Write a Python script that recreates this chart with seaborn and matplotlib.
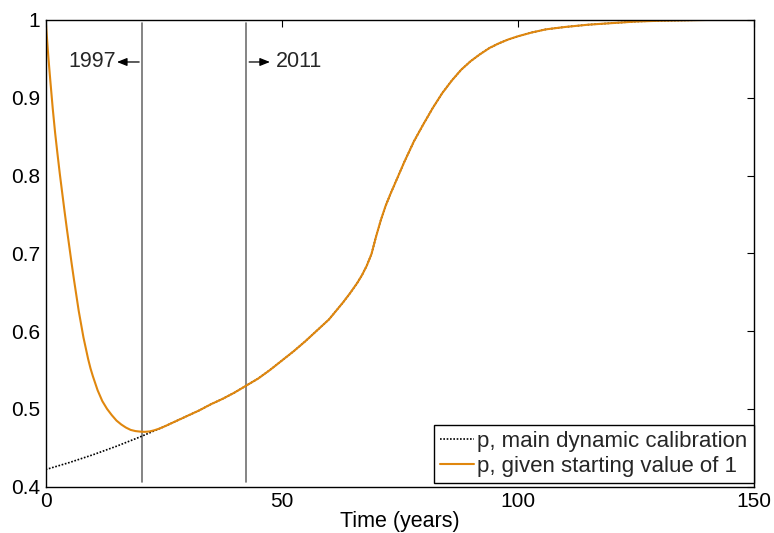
import numpy as np
import pandas as pd
import matplotlib.pyplot as plt
import seaborn as sns
from matplotlib.ticker import FormatStrFormatter

# p over time, main dynamic calibration
tiempo = [0, 5, 10, 15, 20, 25, 27.5, 30, 32.5, 35, 37.5, 40, 42.5, 45, 47.5,
          50, 52.5, 55, 57.5, 60, 61.5, 63, 64.5, 66, 67, 68, 69, 70,
          71, 72, 73, 74, 75, 76, 77, 78, 79, 80, 82, 84, 86, 88, 90, 92, 94,
          96, 98, 100, 103, 106, 110, 115, 120, 125, 130, 135, 140, 150]
p_calib = [0.422, 0.431, 0.441, 0.452, 0.464, 0.477, 0.484, 0.491, 0.498, 0.506,
           0.513, 0.521, 0.530, 0.539, 0.550, 0.562, 0.574, 0.587, 0.601, 0.615,
           0.626, 0.637, 0.649, 0.662, 0.672, 0.684, 0.699, 0.722, 0.743, 0.761,
           0.776, 0.790, 0.804, 0.818, 0.831, 0.844, 0.855, 0.866, 0.887, 0.906,
           0.922, 0.936, 0.947, 0.956, 0.964, 0.970, 0.975, 0.979, 0.984, 0.988,
           0.991, 0.994, 0.996, 0.998, 0.999, 0.9995, 1.0, 1.0]

# p with starting value of 1, first years (joins the calibration after t=25)
tiempo_ini = [0, 0.25, 0.5, 0.75, 1, 1.5, 2, 2.5, 3, 3.5, 4, 4.5, 5, 5.5, 6,
              6.5, 7, 7.5, 8, 8.5, 9, 9.5, 10, 11, 12, 13, 14, 15,
              16, 17, 18, 19, 20, 21, 22, 23, 24, 25]
p_ini = [1.0, 0.979, 0.958, 0.939, 0.921, 0.886, 0.855, 0.828, 0.802, 0.778,
         0.754, 0.731, 0.709, 0.687, 0.666, 0.646, 0.626, 0.609, 0.592, 0.578,
         0.564, 0.552, 0.542, 0.524, 0.510, 0.500, 0.492, 0.485, 0.480, 0.476,
         0.473, 0.4715, 0.4708, 0.4705, 0.471, 0.4725, 0.4745, 0.477]

# year markers
anios_t = [20.3, 42.4]
anios_txt = ['1997', '2011']
y_txt = 0.946

df_calib = pd.DataFrame({'t': tiempo, 'p': p_calib})
df_uno = pd.concat([pd.DataFrame({'t': tiempo_ini, 'p': p_ini}),
                    df_calib[df_calib['t'] > 25]], ignore_index=True)

sns.set_theme(style='white')
plt.rcParams['font.family'] = ['Liberation Sans', 'DejaVu Sans']

fig = plt.figure(figsize=(7.74, 5.33), dpi=100)
ax = fig.add_axes([0.059, 0.0869, 0.915, 0.8756])

for xv in anios_t:
    ax.axvline(xv, ymin=0.011, ymax=0.9936, color='#707070', lw=1.2)

sns.lineplot(data=df_calib, x='t', y='p', color='black', lw=1.2,
             linestyle=(0, (1, 1)), label='p, main dynamic calibration', ax=ax)
sns.lineplot(data=df_uno, x='t', y='p', color='#E0870E', lw=1.5,
             label='p, given starting value of 1', ax=ax)

# arrows + year labels
ax.annotate('', xy=(15.1, y_txt), xytext=(19.8, y_txt),
            arrowprops=dict(arrowstyle='-|>,head_length=0.5,head_width=0.2',
                            color='black', lw=0.9, shrinkA=0, shrinkB=0))
ax.text(15.0, y_txt, anios_txt[0], ha='right', va='center', fontsize=15.5)
ax.annotate('', xy=(47.5, y_txt), xytext=(43.1, y_txt),
            arrowprops=dict(arrowstyle='-|>,head_length=0.5,head_width=0.2',
                            color='black', lw=0.9, shrinkA=0, shrinkB=0))
ax.text(48.8, y_txt, anios_txt[1], ha='left', va='center', fontsize=15.5)

ax.set_xlim(0, 150)
ax.set_ylim(0.4, 1)
ax.set_xticks([0, 50, 100, 150])
ax.set_yticks([0.4, 0.5, 0.6, 0.7, 0.8, 0.9, 1.0])
ax.yaxis.set_major_formatter(FormatStrFormatter('%g'))
ax.tick_params(direction='in', top=True, right=True, length=5, width=0.8,
               labelsize=15, colors='black')
ax.tick_params(axis='y', pad=4)
ax.tick_params(axis='x', pad=4)
for s in ax.spines.values():
    s.set_color('black')
    s.set_linewidth(1.0)
ax.set_xlabel('Time (years)', fontsize=15.5, labelpad=0, color='black')
ax.set_ylabel('')

leg = ax.legend(loc='lower right', bbox_to_anchor=(1.0, 0.0073), borderaxespad=0,
                fontsize=16, frameon=True, fancybox=False, framealpha=1,
                edgecolor='black', handlelength=1.5, handletextpad=0.15,
                labelspacing=0.15, borderpad=0.3)
leg.get_frame().set_linewidth(1.0)

fig.savefig('out.png', dpi=100)
